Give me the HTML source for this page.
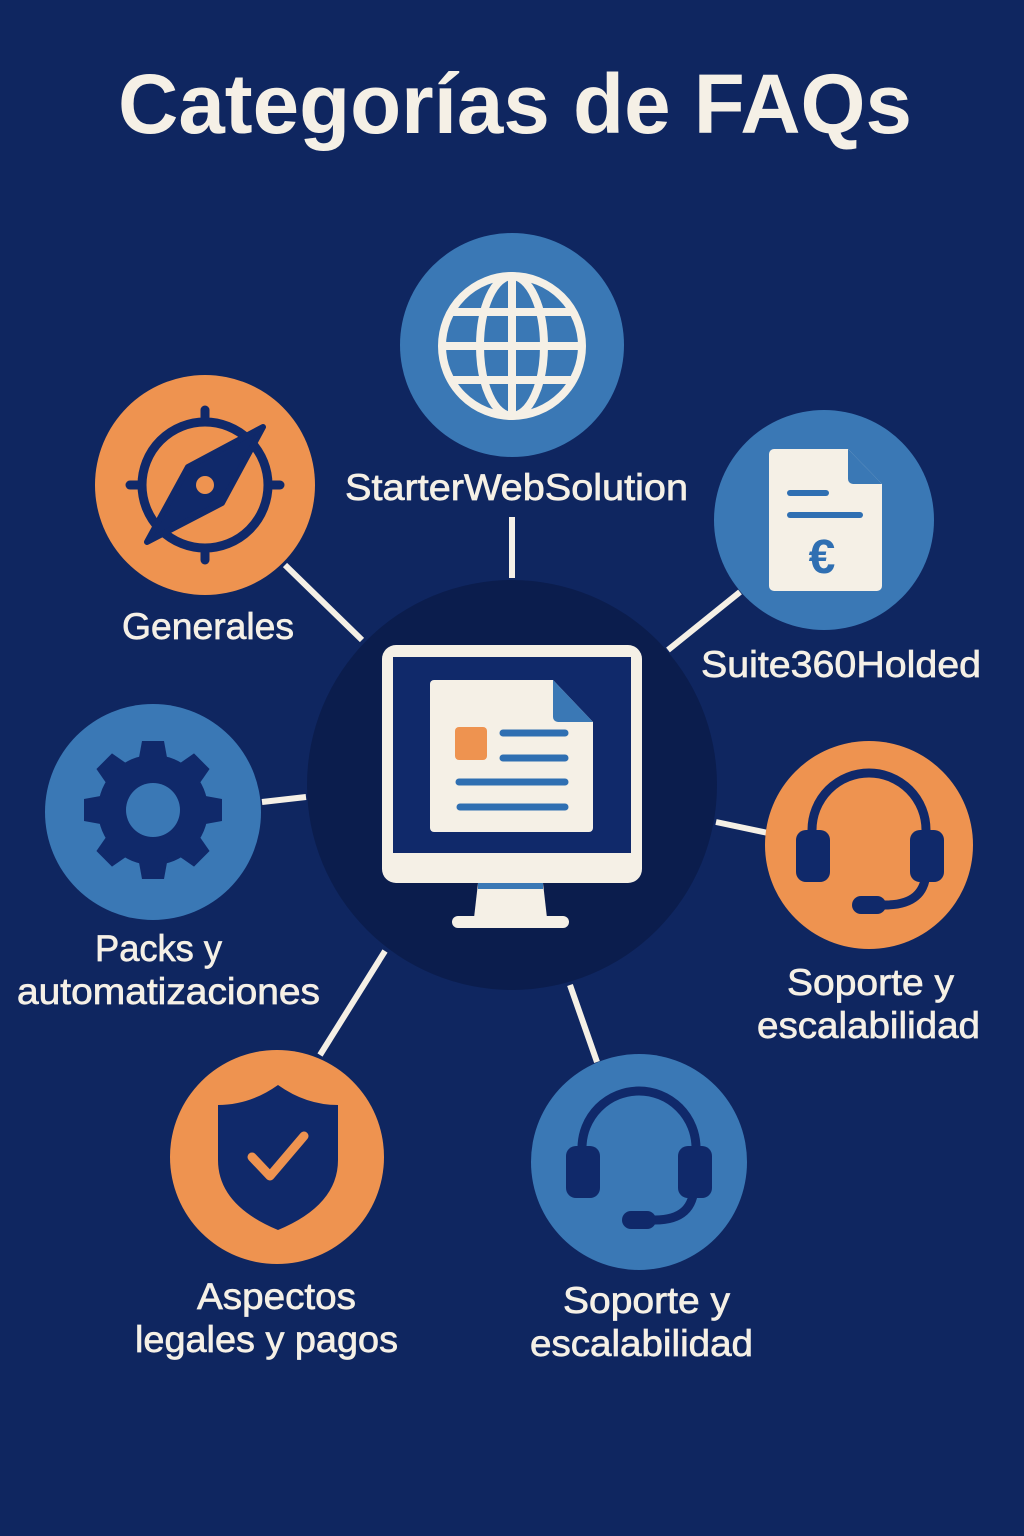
<!DOCTYPE html>
<html><head><meta charset="utf-8"><style>
html,body{margin:0;padding:0;background:#0f2660;}
svg{display:block}
text{font-family:"Liberation Sans","DejaVu Sans",sans-serif;fill:#f5f0e6;}
.l{font-size:37px;stroke:#f5f0e6;stroke-width:0.7px;}
</style></head><body>
<svg width="1024" height="1536" viewBox="0 0 1024 1536" xmlns="http://www.w3.org/2000/svg">
<rect width="1024" height="1536" fill="#0f2660"/>
<text x="118" y="133" font-size="84" font-weight="bold" textLength="794" lengthAdjust="spacingAndGlyphs">Categorías de FAQs</text>

<g stroke="#f5f0e6" stroke-width="6">
<line x1="285" y1="565" x2="362" y2="640"/>
<line x1="512" y1="517" x2="512" y2="578"/>
<line x1="668" y1="650" x2="740" y2="592"/>
<line x1="262" y1="802" x2="306" y2="797"/>
<line x1="716" y1="822" x2="768" y2="833"/>
<line x1="320" y1="1055" x2="385" y2="951"/>
<line x1="570" y1="985" x2="597" y2="1062"/>
</g>

<circle cx="512" cy="785" r="205" fill="#0b1d4d"/>
<rect x="382" y="645" width="260" height="238" rx="14" fill="#f5f0e6"/>
<rect x="393" y="657" width="238" height="196" fill="#10296a"/>
<polygon points="478,883 543,883 547,918 474,918" fill="#f5f0e6"/>
<rect x="478" y="883" width="65" height="6" fill="#3a78b5"/>
<rect x="452" y="916" width="117" height="12" rx="6" fill="#f5f0e6"/>
<path d="M434,680 H553 L593,722 V828 a4,4 0 0 1 -4,4 H434 a4,4 0 0 1 -4,-4 V684 a4,4 0 0 1 4,-4 Z" fill="#f5f0e6"/>
<path d="M553,680 L593,722 H558 a5,5 0 0 1 -5,-5 Z" fill="#3a78b5"/>
<rect x="455" y="727" width="32" height="33" rx="4" fill="#ee9350"/>
<g stroke="#2f6fb2" stroke-width="7" stroke-linecap="round">
<line x1="503" y1="733" x2="565" y2="733"/>
<line x1="503" y1="758" x2="565" y2="758"/>
<line x1="459" y1="782" x2="565" y2="782"/>
<line x1="460" y1="807" x2="565" y2="807"/>
</g>

<circle cx="512" cy="345" r="112" fill="#3a78b5"/>
<g fill="none" stroke="#f5f0e6" stroke-width="8">
<circle cx="512" cy="346" r="70"/>
<ellipse cx="512" cy="346" rx="32" ry="70"/>
<line x1="512" y1="276" x2="512" y2="416"/>
<line x1="442" y1="346" x2="582" y2="346"/>
<path d="M452,312 H572 M452,380 H572"/>
</g>
<text class="l" x="345" y="500" textLength="343" lengthAdjust="spacingAndGlyphs">StarterWebSolution</text>

<circle cx="205" cy="485" r="110" fill="#ee9350"/>
<g stroke="#10296a" stroke-width="9" stroke-linecap="round" fill="none">
<circle cx="205" cy="485" r="63"/>
<line x1="205" y1="410" x2="205" y2="422"/>
<line x1="205" y1="548" x2="205" y2="560"/>
<line x1="130" y1="485" x2="142" y2="485"/>
<line x1="268" y1="485" x2="280" y2="485"/>
</g>
<polygon points="263,427 222,503 147,542 188,467" fill="#10296a" stroke="#10296a" stroke-width="6" stroke-linejoin="round"/>
<circle cx="205" cy="485" r="9" fill="#ee9350"/>
<text class="l" x="122" y="639" textLength="172" lengthAdjust="spacingAndGlyphs">Generales</text>

<circle cx="824" cy="520" r="110" fill="#3a78b5"/>
<path d="M774,449 H848 L882,484 V586 a5,5 0 0 1 -5,5 H774 a5,5 0 0 1 -5,-5 V454 a5,5 0 0 1 5,-5 Z" fill="#f5f0e6"/>
<path d="M848,449 L882,484 H853 a5,5 0 0 1 -5,-5 Z" fill="#3a78b5"/>
<g stroke="#2f6fb2" stroke-width="6" stroke-linecap="round">
<line x1="790" y1="493" x2="826" y2="493"/>
<line x1="790" y1="515" x2="860" y2="515"/>
</g>
<text x="822" y="573" text-anchor="middle" font-size="48" font-weight="bold" style="fill:#2f6fb2">€</text>
<text class="l" x="701" y="677" textLength="280" lengthAdjust="spacingAndGlyphs">Suite360Holded</text>

<circle cx="153" cy="812" r="108" fill="#3a78b5"/>
<g fill="#10296a">
<circle cx="153" cy="810" r="55"/>
<g id="t"><path d="M138,763 L142,741 H164 L168,763 Z"/></g>
<use href="#t" transform="rotate(45 153 810)"/>
<use href="#t" transform="rotate(90 153 810)"/>
<use href="#t" transform="rotate(135 153 810)"/>
<use href="#t" transform="rotate(180 153 810)"/>
<use href="#t" transform="rotate(225 153 810)"/>
<use href="#t" transform="rotate(270 153 810)"/>
<use href="#t" transform="rotate(315 153 810)"/>
</g>
<circle cx="153" cy="810" r="27" fill="#3a78b5"/>
<text class="l" x="95" y="961" textLength="127" lengthAdjust="spacingAndGlyphs">Packs y</text>
<text class="l" x="17" y="1004" textLength="303" lengthAdjust="spacingAndGlyphs">automatizaciones</text>

<circle cx="869" cy="845" r="104" fill="#ee9350"/>
<g fill="none" stroke="#10296a" stroke-width="9" stroke-linecap="round">
<path d="M812,845 V830 a57,57 0 0 1 114,0 V845"/>
<path d="M926,870 Q926,905 885,905"/>
</g>
<rect x="796" y="830" width="34" height="52" rx="10" fill="#10296a"/>
<rect x="910" y="830" width="34" height="52" rx="10" fill="#10296a"/>
<rect x="852" y="896" width="34" height="18" rx="9" fill="#10296a"/>
<text class="l" x="787" y="995" textLength="167" lengthAdjust="spacingAndGlyphs">Soporte y</text>
<text class="l" x="757" y="1038" textLength="223" lengthAdjust="spacingAndGlyphs">escalabilidad</text>

<circle cx="277" cy="1157" r="107" fill="#ee9350"/>
<path d="M278,1085 Q250,1105 218,1105 V1160 Q218,1205 278,1230 Q338,1205 338,1160 V1105 Q306,1105 278,1085 Z" fill="#10296a"/>
<polyline points="252,1157 270,1176 304,1136" fill="none" stroke="#ee9350" stroke-width="9" stroke-linecap="round" stroke-linejoin="round"/>
<text class="l" x="197" y="1309" textLength="159" lengthAdjust="spacingAndGlyphs">Aspectos</text>
<text class="l" x="135" y="1352" textLength="263" lengthAdjust="spacingAndGlyphs">legales y pagos</text>

<circle cx="639" cy="1162" r="108" fill="#3a78b5"/>
<g fill="none" stroke="#10296a" stroke-width="9" stroke-linecap="round">
<path d="M582,1160 V1148 a57,57 0 0 1 114,0 V1160"/>
<path d="M694,1185 Q694,1220 655,1220"/>
</g>
<rect x="566" y="1146" width="34" height="52" rx="10" fill="#10296a"/>
<rect x="678" y="1146" width="34" height="52" rx="10" fill="#10296a"/>
<rect x="622" y="1211" width="34" height="18" rx="9" fill="#10296a"/>
<text class="l" x="563" y="1313" textLength="167" lengthAdjust="spacingAndGlyphs">Soporte y</text>
<text class="l" x="530" y="1356" textLength="223" lengthAdjust="spacingAndGlyphs">escalabilidad</text>
</svg>
</body></html>
